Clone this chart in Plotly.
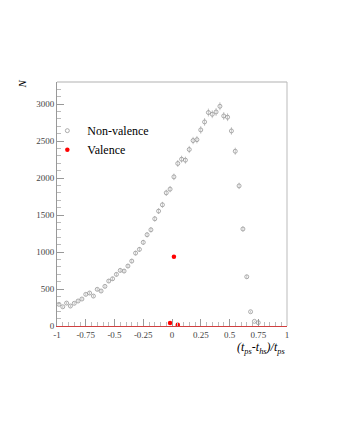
import numpy as np
import plotly.graph_objects as go

# 60 bins of width 1/30 on [-1, 1]
bin_edges = np.linspace(-1, 1, 61)
bin_centers = 0.5 * (bin_edges[:-1] + bin_edges[1:])

non_valence = [
    293, 260, 310, 270, 307, 338, 365, 428, 446, 405,
    496, 473, 536, 608, 639, 698, 752, 743, 811, 878,
    986, 1036, 1131, 1234, 1301, 1450, 1554, 1639, 1801, 1851,
    2017, 2198, 2256, 2243, 2387, 2508, 2520, 2652, 2760, 2887,
    2864, 2895, 2972, 2841, 2824, 2638, 2364, 1895, 1312, 666,
    193, 63, 45, 0, 0, 0, 0, 0, 0, 0,
]
valence = [0] * 60
valence[29] = 40
valence[30] = 935
valence[31] = 18

nv_x = [c for c, v in zip(bin_centers, non_valence) if v > 0]
nv_y = [v for v in non_valence if v > 0]
va_x = [c for c, v in zip(bin_centers, valence) if v > 0]
va_y = [v for v in valence if v > 0]

FONT = "Liberation Serif"

fig = go.Figure()
fig.add_trace(go.Scatter(
    x=nv_x, y=nv_y, mode="markers", name="Non-valence",
    marker=dict(symbol="circle-open", size=4, color="#8a8a8a", line=dict(width=0.7, color="#8a8a8a")),
    error_y=dict(type="data", array=np.sqrt(nv_y), color="#a0a0a0", thickness=0.6, width=0),
))
fig.add_trace(go.Scatter(
    x=va_x, y=va_y, mode="markers", name="Valence",
    marker=dict(symbol="circle", size=4.5, color="#ff0000"),
))

# page has an 8px body margin, so the figure is a bit smaller than the window
fig.update_layout(
    width=329, height=428,
    margin=dict(l=49, r=50, t=74, b=110),
    paper_bgcolor="white", plot_bgcolor="white",
    font=dict(family=FONT, color="#444"),
    showlegend=True,
    legend=dict(
        x=-0.042, y=0.86, xanchor="left", yanchor="top",
        bgcolor="rgba(0,0,0,0)", font=dict(size=12, color="black", family=FONT),
        itemwidth=30, tracegroupgap=0,
    ),
    xaxis=dict(
        range=[-1, 1], showgrid=False, zeroline=False,
        tickvals=[-1, -0.75, -0.5, -0.25, 0, 0.25, 0.5, 0.75, 1],
        ticktext=["-1", "-0.75", "-0.5", "-0.25", "0", "0.25", "0.5", "0.75", "1"],
        ticks="inside", ticklen=7, tickcolor="#999", tickwidth=1,
        minor=dict(dtick=0.05, tick0=0, ticks="inside", ticklen=4, tickcolor="#bbb"),
        showline=True, linecolor="#d04040", linewidth=1, mirror=False,
        tickfont=dict(size=9, family=FONT, color="#444"),
    ),
    yaxis=dict(
        range=[0, 3300], showgrid=False, zeroline=False,
        tickvals=[0, 500, 1000, 1500, 2000, 2500, 3000],
        ticks="inside", ticklen=7, tickcolor="#999", tickwidth=1,
        minor=dict(dtick=100, tick0=0, ticks="inside", ticklen=4, tickcolor="#bbb"),
        showline=True, linecolor="#999", linewidth=1,
        tickfont=dict(size=9, family=FONT, color="#444"),
    ),
    shapes=[
        dict(type="line", xref="paper", yref="paper", x0=0, x1=1, y0=1, y1=1,
             line=dict(color="#d8d8d8", width=2)),
        dict(type="line", xref="paper", yref="paper", x0=1, x1=1, y0=0, y1=1,
             line=dict(color="#bbbbbb", width=1)),
    ],
    annotations=[
        dict(text="<i>N</i>", xref="paper", yref="paper", x=-0.152, y=0.99,
             showarrow=False, textangle=-90, font=dict(size=11, family=FONT, color="black"),
             xanchor="center", yanchor="middle"),
        dict(text="<i>(t<sub>ps</sub>-t<sub>hs</sub>)/t<sub>ps</sub></i>",
             xref="paper", yref="paper", x=1.0, y=-0.09, showarrow=False,
             xanchor="right", yanchor="middle",
             font=dict(size=12, family=FONT, color="black")),
    ],
)

fig.write_html("out.html")
